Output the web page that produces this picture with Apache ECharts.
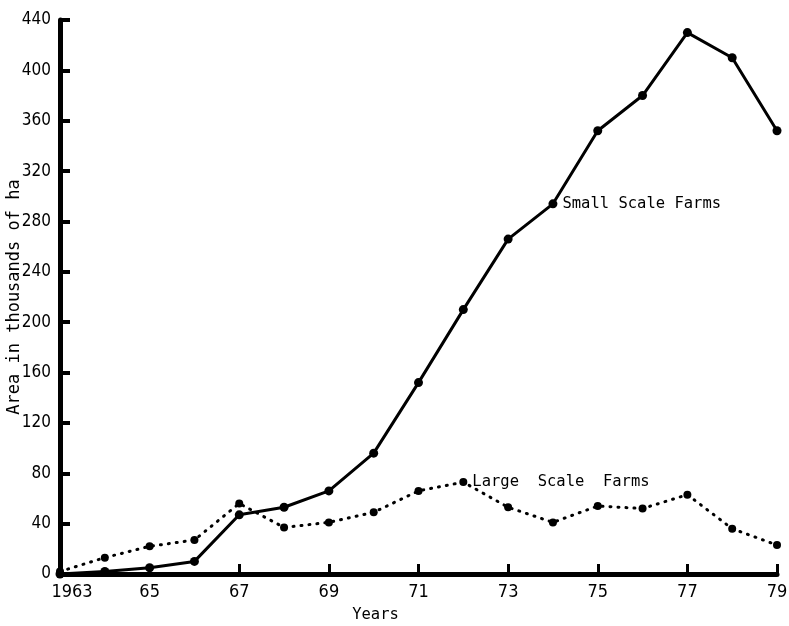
<!DOCTYPE html>
<html>
<head>
<meta charset="utf-8">
<script src="https://cdn.jsdelivr.net/npm/echarts@6/dist/echarts.min.js"></script>
<style>
html,body{margin:0;padding:0;background:#fff;}
#chart{width:789px;height:626px;}
</style>
</head>
<body>
<div id="chart"></div>
<script>
const years = ['1963','1964','1965','1966','1967','1968','1969','1970','1971','1972','1973','1974','1975','1976','1977','1978','1979'];
const smallScale = [0, 2, 5, 10, 47, 53, 66, 96, 152, 210, 266, 294, 352, 380, 430, 410, 352];
const largeScale = [2, 13, 22, 27, 56, 37, 41, 49, 66, 73, 53, 41, 54, 52, 63, 36, 23];
const smallLabel = 'Small Scale Farms';
const largeLabel = 'Large  Scale  Farms';
const smallLabelYear = '1974';
const largeLabelYear = '1972';
const yTicks = {min: 0, max: 440, interval: 40};

const mono = 'DejaVu Sans Mono';
const narrow = '"Liberation Sans Narrow", "DejaVu Sans Condensed", sans-serif';

function withLabel(values, year, text) {
  return values.map((v, i) => years[i] === year
    ? {value: v, label: {show: true, formatter: text, position: 'right', distance: 5,
        fontFamily: mono, fontSize: 15.5, color: '#000'}}
    : v);
}

const chart = echarts.init(document.getElementById('chart'));
chart.setOption({
  animation: false,
  backgroundColor: '#fff',
  grid: {left: 60, right: 12, top: 20, bottom: 52, containLabel: false, outerBoundsMode: 'none'},
  xAxis: {
    type: 'category',
    data: years,
    boundaryGap: false,
    name: 'Years',
    nameLocation: 'middle',
    nameGap: 33,
    nameMoveOverlap: false,
    nameTextStyle: {fontFamily: mono, fontSize: 15.5, color: '#000', padding: [0, 86, 0, 0]},
    axisLine: {lineStyle: {color: '#000', width: 5}},
    axisTick: {inside: true, length: 10, interval: 1, lineStyle: {color: '#000', width: 3}},
    axisLabel: {
      interval: 1,
      color: '#000',
      fontFamily: narrow,
      fontSize: 18,
      margin: 9,
      formatter: (v, i) => i === 0 ? '{a|' + v + '}' : v.slice(2),
      rich: {a: {fontFamily: narrow, fontSize: 18, color: '#000', padding: [0, 0, 0, 24]}}
    },
    splitLine: {show: false}
  },
  yAxis: {
    type: 'value',
    min: yTicks.min,
    max: yTicks.max,
    interval: yTicks.interval,
    name: 'Area in thousands of ha',
    nameLocation: 'middle',
    nameGap: 37,
    nameMoveOverlap: false,
    nameTextStyle: {fontFamily: mono, fontSize: 17, color: '#000'},
    axisLine: {show: true, lineStyle: {color: '#000', width: 5}},
    axisTick: {show: true, inside: true, length: 10, lineStyle: {color: '#000', width: 4}},
    axisLabel: {color: '#000', fontFamily: narrow, fontSize: 17, margin: 9},
    splitLine: {show: false}
  },
  series: [
    {
      name: smallLabel,
      type: 'line',
      data: withLabel(smallScale, smallLabelYear, smallLabel),
      symbol: 'circle',
      symbolSize: 9,
      itemStyle: {color: '#000'},
      lineStyle: {color: '#000', width: 3},
      z: 3
    },
    {
      name: largeLabel,
      type: 'line',
      data: withLabel(largeScale, largeLabelYear, largeLabel),
      symbol: 'circle',
      symbolSize: 8,
      itemStyle: {color: '#000'},
      lineStyle: {color: '#000', width: 3, type: [1, 7], cap: 'round'},
      z: 2
    }
  ]
});
</script>
</body>
</html>
